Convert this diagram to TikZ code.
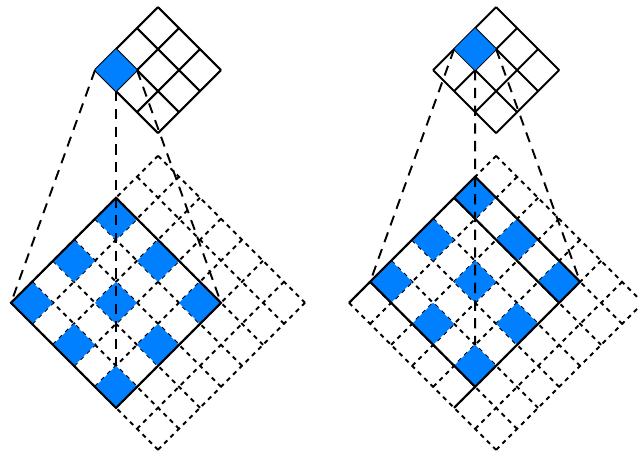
\documentclass[tikz,border=0pt]{standalone}
\usetikzlibrary{calc}
\definecolor{cellblue}{HTML}{0080FF}

\tikzset{
  gridline/.style={line width=1.4pt},
  dotline/.style={line width=1.3pt,dash pattern=on 3pt off 3pt},
  linkline/.style={line width=1.3pt,dash pattern=on 7pt off 5pt},
  diag/.style={rotate=45,yscale=-1,scale=0.7071},
}

\begin{document}
\begin{tikzpicture}
  \useasboundingbox (0,0) rectangle (15.19,10.81);
  % left: kernel and dilated field
  \begin{scope}[shift={(2.262,9.14)},diag]
    \draw[gridline] (0,0) grid (3,3);
    \fill[cellblue] (0,0) rectangle (1,1);
    \coordinate (kl-a) at (0,0);
    \coordinate (kl-b) at (0,1);
    \coordinate (kl-c) at (1,1);
  \end{scope}
  \begin{scope}[shift={(0.262,3.6)},diag]
    \draw[dotline] (0,0) grid (7,7);
    \foreach \i in {0,2,4} \foreach \j in {0,2,4} \fill[cellblue] (\i,\j) rectangle ++(1,1);
    \draw[gridline] (0,0) rectangle (5,5);
    \coordinate (fl-a) at (0,0);
    \coordinate (fl-b) at (1,4);
    \coordinate (fl-c) at (5,5);
  \end{scope}
  \draw[linkline] (kl-a) -- (fl-a);
  \draw[linkline] (kl-b) -- (fl-b);
  \draw[linkline] (kl-c) -- (fl-c);
  % right: kernel moved by one cell
  \begin{scope}[shift={(10.312,9.14)},diag]
    \draw[gridline] (0,0) grid (3,3);
    \fill[cellblue] (1,0) rectangle (2,1);
    \coordinate (kr-a) at (1,0);
    \coordinate (kr-b) at (1,1);
    \coordinate (kr-c) at (2,1);
  \end{scope}
  \begin{scope}[shift={(8.312,3.6)},diag]
    \draw[dotline] (0,0) grid (7,7);
    \foreach \i in {1,3,5} \foreach \j in {0,2,4} \fill[cellblue] (\i,\j) rectangle ++(1,1);
    \draw[gridline] (1,0) rectangle (6,5);
    \draw[gridline] (0,0) -- (1,0) (0,5) -- (1,5) (5,0) -- (5,5);
    \coordinate (fr-a) at (1,0);
    \coordinate (fr-b) at (2,4);
    \coordinate (fr-c) at (6,5);
  \end{scope}
  \draw[linkline] (kr-a) -- (fr-a);
  \draw[linkline] (kr-b) -- (fr-b);
  \draw[linkline] (kr-c) -- (fr-c);
\end{tikzpicture}
\end{document}
